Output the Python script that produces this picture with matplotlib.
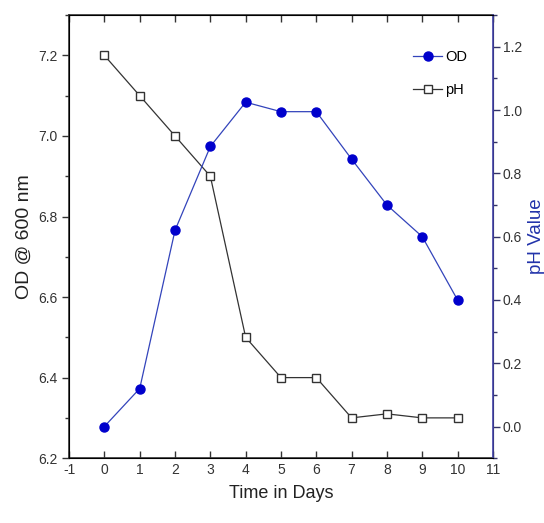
import matplotlib.pyplot as plt
from matplotlib.ticker import MultipleLocator
from matplotlib.lines import Line2D

plt.rcParams['font.family'] = ['Liberation Sans', 'DejaVu Sans']
plt.rcParams['axes.unicode_minus'] = False

days = [0, 1, 2, 3, 4, 5, 6, 7, 8, 9, 10]
ph = [7.2, 7.1, 7.0, 6.9, 6.5, 6.4, 6.4, 6.3, 6.31, 6.3, 6.3]
od = [0.0, 0.12, 0.62, 0.885, 1.025, 0.995, 0.995, 0.845, 0.70, 0.60, 0.40]

fig = plt.figure(figsize=(5.44, 5.23), dpi=100)
ax = fig.add_axes([0.127, 0.124, 0.779, 0.847])
ax2 = ax.twinx()

ax.plot(days, ph, color='#333333', lw=0.9, marker='s', ms=6,
        mfc='white', mec='#333333', mew=1.0)
ax2.plot(days, od, color='#3344bb', lw=0.9, marker='o', ms=6.5,
         mfc='#0000cc', mec='#0000cc')

ax.set_xlim(-1, 11)
ax.set_ylim(6.2, 7.3)
ax2.set_ylim(-0.1, 1.3)

ax.xaxis.set_major_locator(MultipleLocator(1))
ax.yaxis.set_major_locator(MultipleLocator(0.2))
ax.yaxis.set_minor_locator(MultipleLocator(0.1))
ax2.yaxis.set_major_locator(MultipleLocator(0.2))
ax2.yaxis.set_minor_locator(MultipleLocator(0.1))
ax.yaxis.set_major_formatter(plt.FormatStrFormatter('%.1f'))
ax2.yaxis.set_major_formatter(plt.FormatStrFormatter('%.1f'))

ax.tick_params(axis='x', direction='in', top=True, length=5, width=1, labelsize=10, colors='#333333')
ax.tick_params(axis='y', which='major', direction='out', length=5, width=1, labelsize=10, colors='#333333')
ax.tick_params(axis='y', which='minor', direction='out', length=3, width=1, colors='#333333')
ax2.tick_params(axis='y', which='major', direction='out', length=5, width=1, labelsize=10,
                pad=2, color='#333366', labelcolor='#333333')
ax2.tick_params(axis='y', which='minor', direction='out', length=3, width=1, color='#333366')

for s in ['left', 'bottom', 'top']:
    ax.spines[s].set_color('#333333')
    ax.spines[s].set_linewidth(1.2)
ax2.spines['right'].set_color('#4444aa')
ax2.spines['right'].set_linewidth(1.2)

ax.set_xlabel('Time in Days', fontsize=13, color='#222222', labelpad=6)
ax.set_ylabel('OD @ 600 nm', fontsize=14, color='#222222', labelpad=4)
ax2.set_ylabel('pH Value', fontsize=13.5, color='#2233aa', labelpad=4)

handles = [
    Line2D([], [], color='#3344bb', lw=0.9, marker='o', ms=6.5, mfc='#0000cc', mec='#0000cc'),
    Line2D([], [], color='#333333', lw=0.9, marker='s', ms=6, mfc='white', mec='#333333'),
]
ax.legend(handles, ['OD', 'pH'], loc='upper right', bbox_to_anchor=(0.97, 0.95),
          frameon=False, fontsize=10.5, handlelength=2.0, handletextpad=0.2,
          labelspacing=1.3)

fig.savefig('out.png', dpi=100)
